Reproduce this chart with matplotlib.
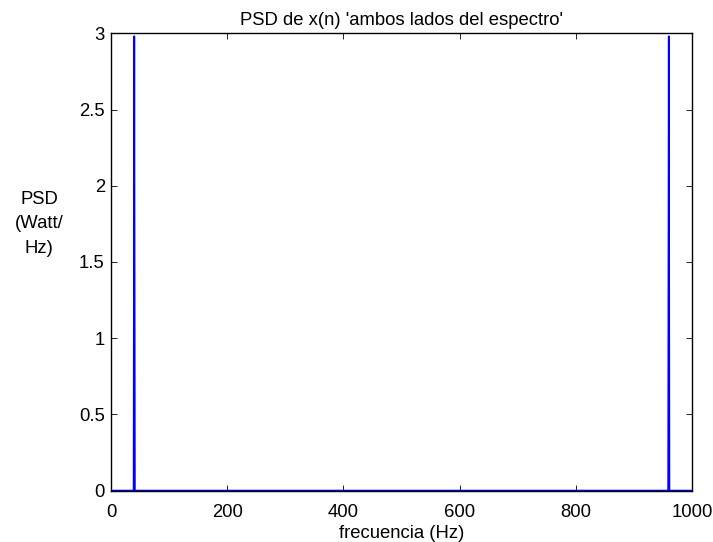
import matplotlib
matplotlib.use("Agg")
import matplotlib.pyplot as plt

# Two-sided PSD of x(n): flat zero floor with two spectral lines
freq_hz = [0, 39, 40, 41, 959, 960, 961, 999]
psd_watt_hz = [0, 0, 2.98, 0, 0, 2.98, 0, 0]

x_ticks = [0, 200, 400, 600, 800, 1000]
y_ticks = [0, 0.5, 1, 1.5, 2, 2.5, 3]
y_tick_labels = ["0", "0.5", "1", "1.5", "2", "2.5", "3"]

FS = 13.3

plt.rcParams["font.family"] = ["Liberation Sans", "DejaVu Sans"]
plt.rcParams["font.size"] = FS

fig = plt.figure(figsize=(7.13, 5.42), dpi=100)
ax = fig.add_axes([0.1557, 0.0948, 0.8149, 0.8438])

ax.plot(freq_hz, psd_watt_hz, color="#0000ff", linewidth=1.3)

ax.set_xlim(0, 1000)
ax.set_ylim(0, 3)
ax.set_xticks(x_ticks)
ax.set_yticks(y_ticks)
ax.set_yticklabels(y_tick_labels)

ax.tick_params(direction="in", length=4.3, width=0.6, top=True, right=True,
               labelsize=FS)
ax.tick_params(axis="x", pad=9.5)
ax.tick_params(axis="y", pad=4.5)
for spine in ax.spines.values():
    spine.set_linewidth(1.0)
    spine.set_color("black")

ax.set_title("PSD de x(n) 'ambos lados del espectro'", fontsize=FS, pad=6)
ax.set_xlabel("frecuencia (Hz)", fontsize=FS, labelpad=3)
ax.set_ylabel("PSD\n(Watt/\nHz)", fontsize=FS, rotation=0, ha="center",
              va="center", multialignment="center", linespacing=1.55)
ax.yaxis.set_label_coords(-0.124, 0.583)

fig.savefig("out.png", dpi=100)
